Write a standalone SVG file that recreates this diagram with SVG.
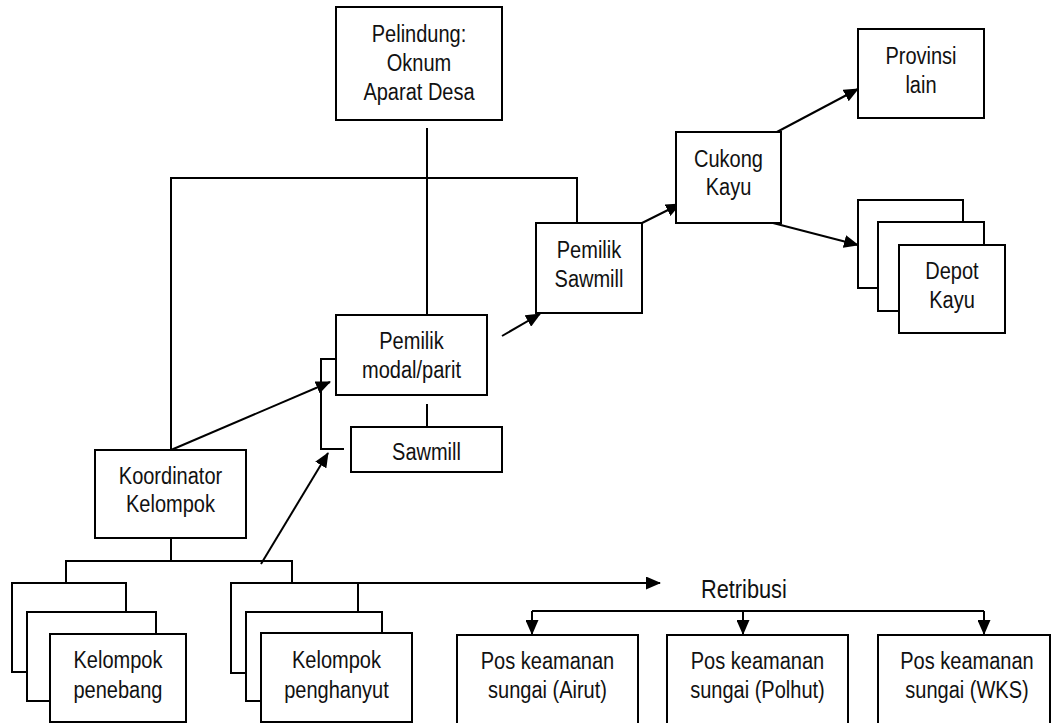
<svg xmlns="http://www.w3.org/2000/svg" width="1052" height="723" viewBox="0 0 1052 723">
<style>
rect{fill:#fff;stroke:#000;stroke-width:2}
text{font-family:"Liberation Sans",Arial,sans-serif;font-size:23px;fill:#111;text-anchor:middle}
.c path{fill:none;stroke:#000;stroke-width:2}
.a{marker-end:url(#ah)}
</style>
<defs>
<marker id="ah" markerUnits="userSpaceOnUse" markerWidth="15" markerHeight="13" viewBox="0 0 15 13" refX="14" refY="6.5" orient="auto">
<path d="M0,0 L15,6.5 L0,13 z" fill="#000"/>
</marker>
</defs>
<rect x="0" y="0" width="1052" height="723" style="stroke:none"/>
<g class="c" id="connectors">
<path d="M427,128 V315"/>
<path d="M171,450 V178 H577 V223"/>
<path class="a" d="M171,450 L330,382"/>
<path d="M344,359 H321 V449 H344"/>
<path d="M427,404 V427"/>
<path class="a" d="M261,564 L328,453"/>
<path class="a" d="M502,336 L540,314"/>
<path class="a" d="M642,223 L680,204"/>
<path class="a" d="M775,133 L858,89"/>
<path class="a" d="M773,223 L858,245"/>
<path d="M171,538 V561"/>
<path d="M66,583 V561 H292 V583"/>
<path class="a" d="M344,583 H660"/>
<path d="M532,611 H984"/>
<path class="a" d="M532,611 V634"/>
<path class="a" d="M743,611 V634"/>
<path class="a" d="M984,611 V634"/>
</g>
<g id="pelindung">
<rect x="336" y="7" width="166" height="113"/>
<g transform="scale(0.87,1)">
<text x="481.61" y="42">Pelindung:</text>
<text x="481.61" y="71">Oknum</text>
<text x="481.61" y="100">Aparat Desa</text>
</g>
</g>
<g id="provinsi">
<rect x="858" y="29" width="126" height="89"/>
<g transform="scale(0.87,1)">
<text x="1058.62" y="64">Provinsi</text>
<text x="1058.62" y="93">lain</text>
</g>
</g>
<g id="cukong">
<rect x="676" y="132" width="105" height="91"/>
<g transform="scale(0.87,1)">
<text x="837.36" y="167">Cukong</text>
<text x="837.36" y="195">Kayu</text>
</g>
</g>
<g id="depot">
<rect x="858" y="200" width="105" height="88"/>
<rect x="878" y="222" width="106" height="89"/>
<rect x="899" y="245" width="106" height="88"/>
<g transform="scale(0.87,1)">
<text x="1094.25" y="279">Depot</text>
<text x="1094.25" y="308">Kayu</text>
</g>
</g>
<g id="pemilik-sawmill">
<rect x="536" y="223" width="106" height="90"/>
<g transform="scale(0.87,1)">
<text x="677.01" y="258">Pemilik</text>
<text x="677.01" y="287">Sawmill</text>
</g>
</g>
<g id="pemilik-modal">
<rect x="336" y="315" width="151" height="80"/>
<g transform="scale(0.87,1)">
<text x="472.99" y="349">Pemilik</text>
<text x="472.99" y="378">modal/parit</text>
</g>
</g>
<g id="sawmill">
<rect x="351" y="427" width="151" height="45"/>
<g transform="scale(0.87,1)">
<text x="490.23" y="460">Sawmill</text>
</g>
</g>
<g id="koordinator">
<rect x="95" y="450" width="151" height="88"/>
<g transform="scale(0.87,1)">
<text x="195.98" y="484">Koordinator</text>
<text x="195.98" y="512">Kelompok</text>
</g>
</g>
<g id="penebang">
<rect x="12" y="583" width="114" height="89"/>
<rect x="27" y="612" width="129" height="89"/>
<rect x="50" y="634" width="136" height="88"/>
<g transform="scale(0.87,1)">
<text x="135.63" y="668">Kelompok</text>
<text x="135.63" y="698">penebang</text>
</g>
</g>
<g id="penghanyut">
<rect x="231" y="583" width="127" height="90"/>
<rect x="246" y="612" width="136" height="89"/>
<rect x="261" y="633" width="151" height="89"/>
<g transform="scale(0.87,1)">
<text x="386.78" y="668">Kelompok</text>
<text x="386.78" y="698">penghanyut</text>
</g>
</g>
<g id="retribusi">
<g transform="scale(0.87,1)">
<text x="805.75" y="598" style="text-anchor:start;font-size:25px">Retribusi</text>
</g>
</g>
<g id="pos-airut">
<rect x="457" y="635" width="181" height="100"/>
<g transform="scale(0.87,1)">
<text x="629.31" y="669">Pos keamanan</text>
<text x="629.31" y="698">sungai (Airut)</text>
</g>
</g>
<g id="pos-polhut">
<rect x="667" y="635" width="181" height="100"/>
<g transform="scale(0.87,1)">
<text x="870.69" y="669">Pos keamanan</text>
<text x="870.69" y="698">sungai (Polhut)</text>
</g>
</g>
<g id="pos-wks">
<rect x="878" y="635" width="172" height="100"/>
<g transform="scale(0.87,1)">
<text x="1111.49" y="669">Pos keamanan</text>
<text x="1111.49" y="698">sungai (WKS)</text>
</g>
</g>
</svg>
